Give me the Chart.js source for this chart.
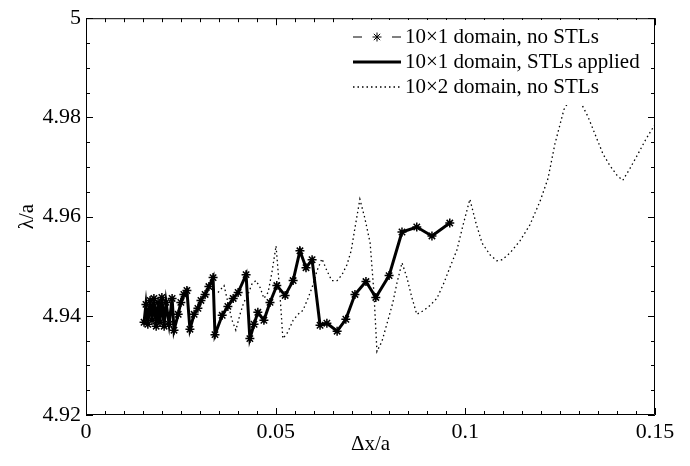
<!DOCTYPE html>
<html>
<head>
<meta charset="utf-8">
<script src="https://cdn.jsdelivr.net/npm/chart.js@4"></script>
<style>
  html, body { margin: 0; padding: 0; background: #fff; }
  #wrap { width: 690px; height: 466px; }
</style>
</head>
<body>
<div id="wrap"><canvas id="chart"></canvas></div>
<script>
/* lambda/a vs dx/a for the three grid set-ups */

const X_TICKS = [0, 0.05, 0.1, 0.15];
const X_TICK_LABELS = ['0', '0.05', '0.1', '0.15'];
const Y_TICKS = [4.92, 4.94, 4.96, 4.98, 5];
const Y_TICK_LABELS = ['4.92', '4.94', '4.96', '4.98', '5'];

const SERIES_NAMES = ['10×1 domain, no STLs', '10×1 domain, STLs applied', '10×2 domain, no STLs'];

// 10x1 domain; the marked curve and the thick curve sit on top of each other
const dx10x1 = [0.0153,0.0158,0.0163,0.0169,0.0174,0.0179,0.0185,0.0190,0.0195,0.0200,
  0.0206,0.0211,0.0219,0.0227,0.0232,0.0243,0.0250,0.0258,0.0266,0.0274,
  0.0285,0.0295,0.0303,0.0314,0.0324,0.0335,0.0340,0.0359,0.0374,0.0388,
  0.0401,0.0422,0.0432,0.0443,0.0453,0.0469,0.0485,0.0503,0.0525,0.0546,
  0.0564,0.0580,0.0596,0.0617,0.0635,0.0662,0.0685,0.0709,0.0738,0.0764,
  0.0799,0.0833,0.0872,0.0912,0.0959];
const lambda10x1 = [4.9387,4.9423,4.9383,4.9431,4.9391,4.9435,4.9379,4.9427,4.9387,4.9437,
  4.9379,4.9427,4.9383,4.9435,4.9371,4.9403,4.9427,4.9443,4.9451,4.9373,
  4.9403,4.9415,4.9431,4.9443,4.9459,4.9477,4.9362,4.9401,4.9419,4.9435,
  4.9447,4.9483,4.9354,4.9383,4.9407,4.9391,4.9427,4.9461,4.9441,4.9471,
  4.9531,4.9497,4.9513,4.9381,4.9385,4.9369,4.9393,4.9443,4.9469,4.9437,
  4.9481,4.9569,4.9579,4.9561,4.9587];

// 10x2 domain, no STLs (dotted)
const dx10x2 = [0.0348,0.0364,0.0374,0.0385,0.0395,0.0406,0.0416,0.0427,0.0438,0.0448,
  0.0459,0.0469,0.0480,0.0490,0.0501,0.0511,0.0519,0.0532,0.0546,0.0559,
  0.0572,0.0585,0.0596,0.0609,0.0622,0.0635,0.0648,0.0662,0.0675,0.0688,
  0.0699,0.0709,0.0722,0.0735,0.0749,0.0759,0.0767,0.0780,0.0796,0.0809,
  0.0820,0.0833,0.0846,0.0859,0.0872,0.0891,0.0907,0.0925,0.0944,0.0959,
  0.0978,0.0994,0.1012,0.1028,0.1044,0.1065,0.1083,0.1097,0.1118,0.1144,
  0.1170,0.1197,0.1218,0.1236,0.1260,0.1286,0.1307,0.1323,0.1342,0.1363,
  0.1381,0.1400,0.1415,0.1434,0.1455,0.1476,0.1500];
const lambda10x2 = [4.9447,4.9461,4.9427,4.9391,4.9371,4.9403,4.9427,4.9443,4.9465,4.9471,
  4.9457,4.9435,4.9447,4.9487,4.9541,4.9447,4.9354,4.9367,4.9391,4.9403,
  4.9411,4.9435,4.9457,4.9491,4.9515,4.9491,4.9471,4.9471,4.9483,4.9503,
  4.9531,4.9577,4.9635,4.9597,4.9547,4.9447,4.9328,4.9348,4.9391,4.9427,
  4.9467,4.9507,4.9477,4.9437,4.9403,4.9411,4.9421,4.9435,4.9467,4.9497,
  4.9533,4.9583,4.9635,4.9587,4.9547,4.9523,4.9511,4.9513,4.9527,4.9551,
  4.9583,4.9631,4.9677,4.9746,4.9816,4.9850,4.9826,4.9802,4.9766,4.9726,
  4.9703,4.9683,4.9673,4.9697,4.9726,4.9756,4.9786];

const FONT = "'Liberation Serif', 'Times New Roman', serif";

function toPoints(xs, ys) {
  return xs.map((x, i) => ({ x, y: ys[i] }));
}

// Box round the plot plus inward ticks on all four sides, like the original
const frameTicks = {
  id: 'frameTicks',
  afterDatasetsDraw(chart) {
    const { ctx, chartArea: a, scales: { x, y } } = chart;
    ctx.save();
    ctx.strokeStyle = '#000';
    ctx.lineWidth = 1;
    ctx.beginPath();
    ctx.rect(a.left + 0.5, a.top + 0.5, a.right - a.left - 1, a.bottom - a.top - 1);
    for (let i = 0; i <= 30; i++) {
      const px = Math.round(x.getPixelForValue(i * 0.005)) + 0.5;
      const len = i % 10 === 0 ? 7 : 4;
      ctx.moveTo(px, a.bottom); ctx.lineTo(px, a.bottom - len);
      ctx.moveTo(px, a.top); ctx.lineTo(px, a.top + len);
    }
    for (let i = 0; i <= 16; i++) {
      const py = Math.round(y.getPixelForValue(4.92 + i * 0.005)) + 0.5;
      const len = i % 4 === 0 ? 7 : 4;
      ctx.moveTo(a.left, py); ctx.lineTo(a.left + len, py);
      ctx.moveTo(a.right, py); ctx.lineTo(a.right - len, py);
    }
    ctx.stroke();
    ctx.restore();
  }
};

// Legend drawn inside the axes, top right, on a white box
const boxLegend = {
  id: 'boxLegend',
  afterDraw(chart) {
    const ctx = chart.ctx;
    const ds = chart.data.datasets;
    const x0 = 353, x1 = 401, textX = 405;
    const rows = [37, 62, 87];
    ctx.save();
    ctx.fillStyle = '#fff';
    ctx.fillRect(345, 20, 300, 85);
    ds.forEach((d, i) => {
      const yy = rows[i];
      ctx.strokeStyle = '#000';
      ctx.lineWidth = d.borderWidth;
      ctx.beginPath();
      if (d.pointRadius) {
        // dash - marker - dash
        ctx.moveTo(x0, yy); ctx.lineTo(x0 + 9, yy);
        ctx.moveTo(x1 - 9, yy); ctx.lineTo(x1, yy);
      } else {
        ctx.setLineDash(d.borderDash || []);
        ctx.moveTo(x0, yy); ctx.lineTo(x1, yy);
      }
      ctx.stroke();
      ctx.setLineDash([]);
      if (d.pointRadius) {
        Chart.helpers.drawPoint(ctx, { pointStyle: d.pointStyle, radius: d.pointRadius, borderWidth: d.pointBorderWidth }, (x0 + x1) / 2, yy);
      }
      ctx.fillStyle = '#000';
      ctx.font = `21px ${FONT}`;
      ctx.textBaseline = 'middle';
      ctx.fillText(d.label, textX, yy);
    });
    ctx.restore();
  }
};

new Chart(document.getElementById('chart'), {
  type: 'line',
  data: {
    datasets: [
      {
        label: SERIES_NAMES[0],
        data: toPoints(dx10x1, lambda10x1),
        borderColor: '#000', backgroundColor: '#000',
        borderWidth: 1, borderDash: [6, 4],
        pointStyle: 'star', pointRadius: 4.5, pointBorderWidth: 1.5,
        pointBorderColor: '#000',
        order: 0
      },
      {
        label: SERIES_NAMES[1],
        data: toPoints(dx10x1, lambda10x1),
        borderColor: '#000', backgroundColor: '#000',
        borderWidth: 3, pointRadius: 0,
        order: 1
      },
      {
        label: SERIES_NAMES[2],
        data: toPoints(dx10x2, lambda10x2),
        borderColor: '#000', backgroundColor: '#000',
        borderWidth: 1.3, borderDash: [1.5, 3], pointRadius: 0,
        order: 2
      }
    ]
  },
  plugins: [frameTicks, boxLegend],
  options: {
    responsive: true,
    maintainAspectRatio: false,
    animation: false,
    layout: { padding: { top: 12, right: 35, left: 0, bottom: 0 } },
    elements: { line: { tension: 0 } },
    plugins: {
      legend: { display: false }, // drawn by boxLegend
      tooltip: { enabled: false }
    },
    scales: {
      x: {
        type: 'linear', min: 0, max: 0.15,
        grid: { display: false, drawTicks: false },
        border: { display: false },
        afterBuildTicks: s => { s.ticks = X_TICKS.map(v => ({ value: v })); },
        afterFit: s => { s.height = 51; },
        ticks: {
          color: '#000', padding: 4, maxRotation: 0,
          font: { family: FONT, size: 22 },
          callback: v => X_TICK_LABELS[X_TICKS.indexOf(v)]
        },
        title: {
          display: true, text: 'Δx/a', color: '#000',
          font: { family: FONT, size: 21 },
          padding: { top: 0, bottom: 9 }
        }
      },
      y: {
        type: 'linear', min: 4.92, max: 5,
        grid: { display: false, drawTicks: false },
        border: { display: false },
        afterBuildTicks: s => { s.ticks = Y_TICKS.map(v => ({ value: v })); },
        afterFit: s => { s.width = 86; },
        ticks: {
          color: '#000', padding: 5,
          font: { family: FONT, size: 22 },
          callback: v => Y_TICK_LABELS[Y_TICKS.indexOf(v)]
        },
        title: {
          display: true, text: 'λ/a', color: '#000',
          font: { family: FONT, size: 21 },
          padding: { top: 15, bottom: 0 }
        }
      }
    }
  }
});
</script>
</body>
</html>
